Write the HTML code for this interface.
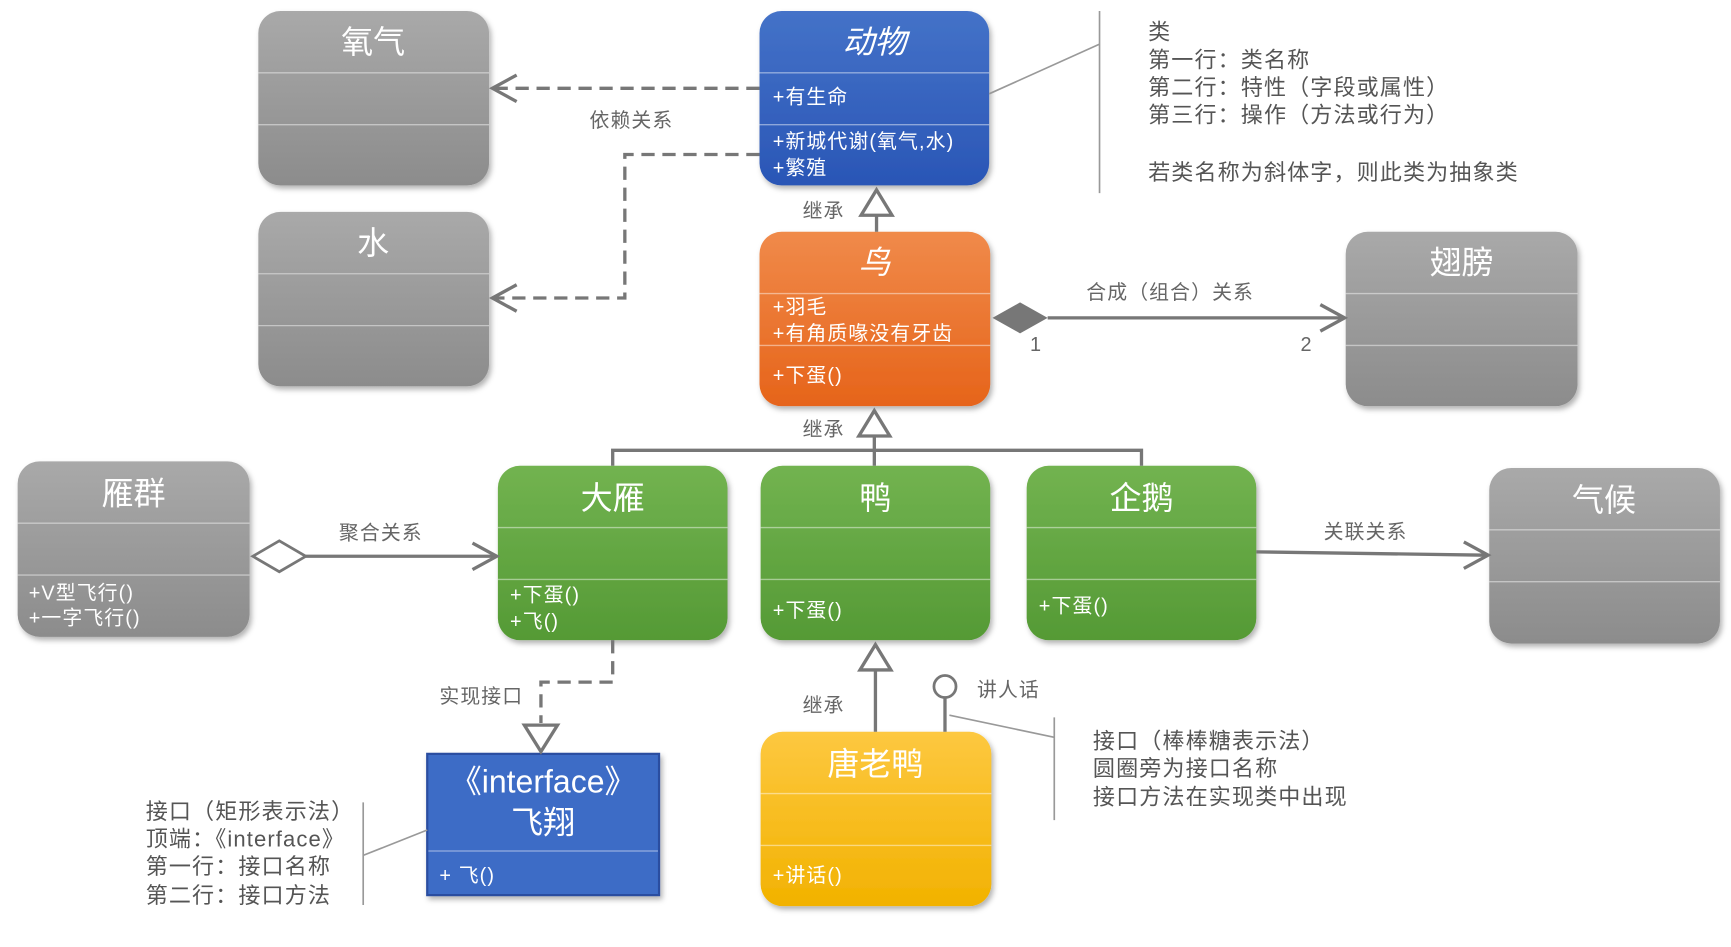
<!DOCTYPE html>
<html><head><meta charset="utf-8"><style>
html,body{margin:0;padding:0;background:#fff;}
svg{display:block;}
text{font-family:"Liberation Sans","Noto Sans CJK SC",sans-serif;}
.t{fill:#fff;font-size:29px;text-anchor:middle;}
.a{fill:#fff;font-size:18px;letter-spacing:1px;}
.l{fill:#666;font-size:18px;letter-spacing:1px;}
.n{fill:#555;font-size:20px;letter-spacing:1px;}
.sep{stroke:#fff;stroke-opacity:.45;stroke-width:1.2;}
.c{stroke:#777;stroke-width:3;fill:none;}
.d{stroke:#777;stroke-width:3;fill:none;stroke-dasharray:12 7;}
.g{stroke:#999;stroke-width:1.5;fill:none;}
</style></head><body>
<svg width="1731" height="947" viewBox="0 0 1568 858" preserveAspectRatio="none" xmlns="http://www.w3.org/2000/svg">
<defs>
<linearGradient id="gr" x1="0" y1="0" x2="0" y2="1"><stop offset="0" stop-color="#a9a9a9"/><stop offset="1" stop-color="#8c8c8c"/></linearGradient>
<linearGradient id="bl" x1="0" y1="0" x2="0" y2="1"><stop offset="0" stop-color="#4472c8"/><stop offset="1" stop-color="#2a56b6"/></linearGradient>
<linearGradient id="or" x1="0" y1="0" x2="0" y2="1"><stop offset="0" stop-color="#f08a4a"/><stop offset="1" stop-color="#e6641a"/></linearGradient>
<linearGradient id="gn" x1="0" y1="0" x2="0" y2="1"><stop offset="0" stop-color="#72b350"/><stop offset="1" stop-color="#559a35"/></linearGradient>
<linearGradient id="ye" x1="0" y1="0" x2="0" y2="1"><stop offset="0" stop-color="#fdc840"/><stop offset="1" stop-color="#f2b200"/></linearGradient>
<filter id="sh" x="-10%" y="-10%" width="125%" height="125%"><feDropShadow dx="2" dy="3" stdDeviation="2.5" flood-color="#000" flood-opacity=".3"/></filter>
</defs>

<g filter="url(#sh)">
<rect x="234" y="10" width="209" height="158" rx="20" fill="url(#gr)"/>
<rect x="234" y="192" width="209" height="158" rx="20" fill="url(#gr)"/>
<rect x="688" y="10" width="208" height="158" rx="20" fill="url(#bl)"/>
<rect x="688" y="210" width="209" height="158" rx="20" fill="url(#or)"/>
<rect x="1219" y="210" width="210" height="158" rx="20" fill="url(#gr)"/>
<rect x="16" y="418" width="210" height="159" rx="20" fill="url(#gr)"/>
<rect x="451" y="422" width="208" height="158" rx="20" fill="url(#gn)"/>
<rect x="689" y="422" width="208" height="158" rx="20" fill="url(#gn)"/>
<rect x="930" y="422" width="208" height="158" rx="20" fill="url(#gn)"/>
<rect x="1349" y="424" width="209" height="159" rx="20" fill="url(#gr)"/>
<rect x="387" y="683" width="210" height="128" fill="#3c6cc6" stroke="#2a4ea0" stroke-width="2"/>
<rect x="689" y="663" width="209" height="158" rx="20" fill="url(#ye)"/>
</g>
<g class="sep">
<line x1="234" y1="66" x2="443" y2="66"/><line x1="234" y1="113" x2="443" y2="113"/>
<line x1="234" y1="248" x2="443" y2="248"/><line x1="234" y1="295" x2="443" y2="295"/>
<line x1="688" y1="66" x2="896" y2="66"/><line x1="688" y1="113" x2="896" y2="113"/>
<line x1="688" y1="266" x2="897" y2="266"/><line x1="688" y1="313" x2="897" y2="313"/>
<line x1="1219" y1="266" x2="1429" y2="266"/><line x1="1219" y1="313" x2="1429" y2="313"/>
<line x1="16" y1="474" x2="226" y2="474"/><line x1="16" y1="521" x2="226" y2="521"/>
<line x1="451" y1="478" x2="659" y2="478"/><line x1="451" y1="525" x2="659" y2="525"/>
<line x1="689" y1="478" x2="897" y2="478"/><line x1="689" y1="525" x2="897" y2="525"/>
<line x1="930" y1="478" x2="1138" y2="478"/><line x1="930" y1="525" x2="1138" y2="525"/>
<line x1="1349" y1="480" x2="1558" y2="480"/><line x1="1349" y1="527" x2="1558" y2="527"/>
<line x1="388" y1="771" x2="596" y2="771"/>
<line x1="689" y1="719" x2="898" y2="719"/><line x1="689" y1="766" x2="898" y2="766"/>
</g>
<text class="t" x="338" y="48">氧气</text>
<text class="t" x="338" y="230">水</text>
<text class="t" x="792" y="48" font-style="italic">动物</text>
<text class="t" x="792" y="248" font-style="italic">鸟</text>
<text class="t" x="1324" y="248">翅膀</text>
<text class="t" x="121" y="457">雁群</text>
<text class="t" x="555" y="461">大雁</text>
<text class="t" x="793" y="461">鸭</text>
<text class="t" x="1034" y="461">企鹅</text>
<text class="t" x="1453" y="463">气候</text>
<text class="t" x="492" y="718">《interface》</text>
<text class="t" x="492" y="755">飞翔</text>
<text class="t" x="793" y="702">唐老鸭</text>
<text class="a" x="700" y="94">+有生命</text>
<text class="a" x="700" y="134">+新城代谢(氧气,水)</text>
<text class="a" x="700" y="158">+繁殖</text>
<text class="a" x="700" y="284">+羽毛</text>
<text class="a" x="700" y="308">+有角质喙没有牙齿</text>
<text class="a" x="700" y="346">+下蛋()</text>
<text class="a" x="26" y="543">+V型飞行()</text>
<text class="a" x="26" y="566">+一字飞行()</text>
<text class="a" x="462" y="545">+下蛋()</text>
<text class="a" x="462" y="569">+飞()</text>
<text class="a" x="700" y="559">+下蛋()</text>
<text class="a" x="941" y="555">+下蛋()</text>
<text class="a" x="398" y="799">+ 飞()</text>
<text class="a" x="700" y="799">+讲话()</text>

<path class="d" d="M688 80 H446"/>
<path class="c" d="M468 68 L446 80 L468 92"/>
<path class="d" d="M688 140 H566 V270 H446"/>
<path class="c" d="M468 258 L446 270 L468 282"/>
<text class="l" x="534" y="115">依赖关系</text>
<path class="c" d="M794 210 V195"/>
<path class="c" d="M794 172 L808 195 L780 195 Z"/>
<text class="l" x="727" y="197">继承</text>
<path d="M899 288 L924 274 L949 288 L924 302 Z" fill="#777"/>
<path class="c" d="M949 288 H1216"/>
<path class="c" d="M1196 276 L1218 288 L1196 300"/>
<text class="l" x="984" y="271">合成（组合）关系</text>
<text class="l" x="933" y="318">1</text>
<text class="l" x="1178" y="318">2</text>
<path class="c" d="M792 395 V408 M555 422 V408 H1034 V422 M792 408 V422"/>
<path class="c" d="M792 372 L806 395 L778 395 Z"/>
<text class="l" x="727" y="395">继承</text>
<path class="c" d="M229 504 L253 490 L277 504 L253 518 Z" style="stroke-width:2.5"/>
<path class="c" d="M277 504 H448"/>
<path class="c" d="M428 492 L450 504 L428 516"/>
<text class="l" x="307" y="489">聚合关系</text>
<path class="c" d="M1138 500 L1346 503"/>
<path class="c" d="M1326 491 L1348 503 L1326 515"/>
<text class="l" x="1199" y="488">关联关系</text>
<path class="d" d="M555 580 V618 H490 V655"/>
<path class="c" d="M475 657 L505 657 L490 681 Z"/>
<text class="l" x="398" y="637">实现接口</text>
<path class="c" d="M793 663 V608"/>
<path class="c" d="M793 584 L807 607 L779 607 Z"/>
<text class="l" x="727" y="645">继承</text>
<circle cx="856" cy="622" r="10" class="c" style="stroke-width:2.5"/>
<path class="c" d="M856 632 V663"/>
<text class="l" x="885" y="631">讲人话</text>

<path class="g" d="M996 10 V175 M896 85 L996 40"/>
<text class="n" x="1040" y="36">类</text>
<text class="n" x="1040" y="61">第一行：类名称</text>
<text class="n" x="1040" y="86">第二行：特性（字段或属性）</text>
<text class="n" x="1040" y="111">第三行：操作（方法或行为）</text>
<text class="n" x="1040" y="163">若类名称为斜体字，则此类为抽象类</text>
<path class="g" d="M955 650 V743 M860 648 L955 668"/>
<text class="n" x="990" y="678">接口（棒棒糖表示法）</text>
<text class="n" x="990" y="703">圆圈旁为接口名称</text>
<text class="n" x="990" y="729">接口方法在实现类中出现</text>
<path class="g" d="M329 727 V820 M329 775 L387 752"/>
<text class="n" x="132" y="742">接口（矩形表示法）</text>
<text class="n" x="132" y="767">顶端：《interface》</text>
<text class="n" x="132" y="792">第一行：接口名称</text>
<text class="n" x="132" y="818">第二行：接口方法</text>
</svg>
</body></html>
